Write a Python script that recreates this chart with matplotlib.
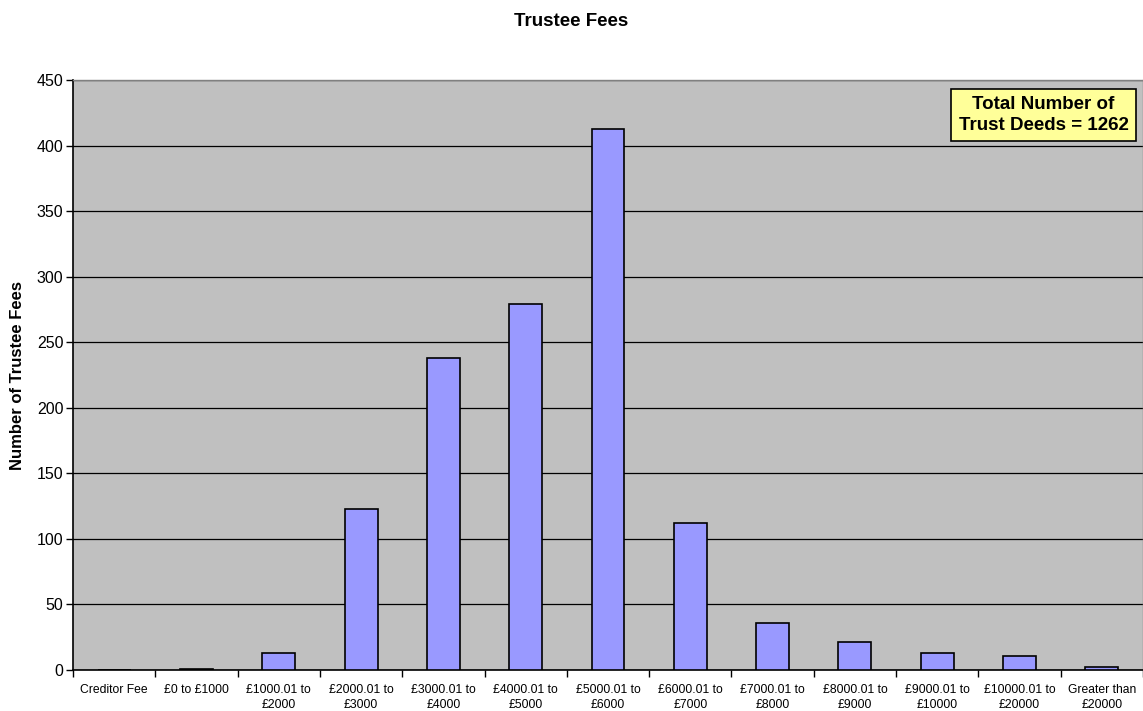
import numpy as np
import matplotlib.pyplot as plt

plt.rcParams['font.family'] = ['Liberation Sans', 'DejaVu Sans']

categories = ['Creditor Fee', '£0 to £1000', '£1000.01 to\n£2000', '£2000.01 to\n£3000',
              '£3000.01 to\n£4000', '£4000.01 to\n£5000', '£5000.01 to\n£6000',
              '£6000.01 to\n£7000', '£7000.01 to\n£8000', '£8000.01 to\n£9000',
              '£9000.01 to\n£10000', '£10000.01 to\n£20000', 'Greater than\n£20000']
counts = [0, 1, 13, 123, 238, 279, 413, 112, 36, 21, 13, 11, 2]
y_ticks = [0, 50, 100, 150, 200, 250, 300, 350, 400, 450]

fig = plt.figure(figsize=(11.43, 7.11), dpi=100)
ax = fig.add_axes([73 / 1143, 41 / 711, 1070 / 1143, 590 / 711])
ax.set_facecolor('#c0c0c0')

x = np.arange(len(categories))
ax.bar(x, counts, width=0.4, color='#9999ff', edgecolor='black', linewidth=1.2, zorder=3)

ax.set_xlim(-0.5, len(categories) - 0.5)
ax.set_ylim(0, 450)
ax.set_yticks(y_ticks)
ax.tick_params(axis='y', labelsize=11.5, direction='out', length=5, width=1, pad=2)
ax.yaxis.grid(True, color='black', linewidth=0.9, zorder=1)
ax.set_axisbelow(True)

# category labels at centres, ticks at boundaries
ax.set_xticks(x)
ax.set_xticklabels(categories, fontsize=8.7, linespacing=1.4)
ax.tick_params(axis='x', length=0, pad=10)
ax.set_xticks(np.arange(len(categories) + 1) - 0.5, minor=True)
ax.tick_params(axis='x', which='minor', length=5, width=1, direction='out')

for side in ['top', 'right']:
    ax.spines[side].set_color('#808080')
    ax.spines[side].set_linewidth(1)
ax.spines['left'].set_linewidth(1.2)
ax.spines['bottom'].set_linewidth(1.2)

ax.set_ylabel('Number of Trustee Fees', fontsize=12, fontweight='bold')
ax.yaxis.set_label_coords(-0.045, 0.5)
fig.text(0.5, 1 - 21 / 711, 'Trustee Fees', ha='center', va='center', fontsize=13.5, fontweight='bold')

ax.text(0.907, 0.941, 'Total Number of\nTrust Deeds = 1262', transform=ax.transAxes,
        ha='center', va='center', fontsize=13.5, fontweight='bold', linespacing=1.3,
        bbox=dict(boxstyle='square,pad=0.38', facecolor='#ffff99', edgecolor='black', linewidth=1.2))

fig.savefig('out.png', dpi=100)
